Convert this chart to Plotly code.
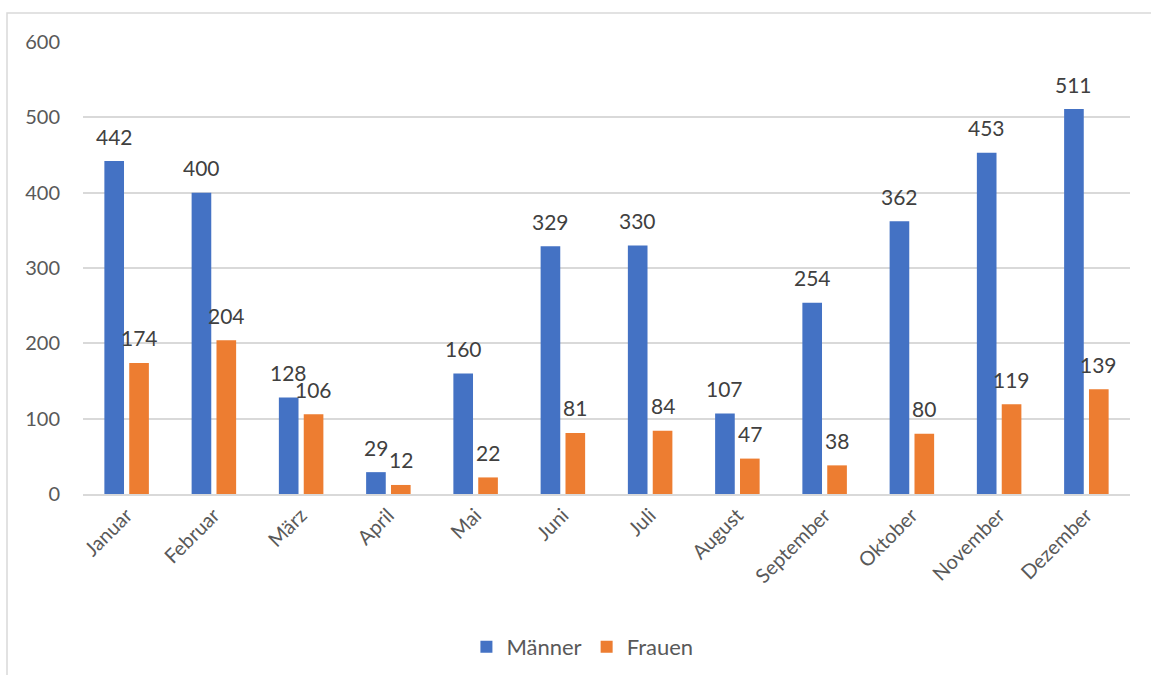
import plotly.graph_objects as go

months = ["Januar", "Februar", "März", "April", "Mai", "Juni", "Juli", "August",
          "September", "Oktober", "November", "Dezember"]
maenner = [442, 400, 128, 29, 160, 329, 330, 107, 254, 362, 453, 511]
frauen = [174, 204, 106, 12, 22, 81, 84, 47, 38, 80, 119, 139]
y_ticks = [0, 100, 200, 300, 400, 500, 600]

FONT = "Lato, 'Open Sans', sans-serif"
LABEL_COLOR = "#404040"

fig = go.Figure()
fig.add_trace(go.Bar(name="Männer", x=months, y=maenner, marker_color="#4472C4"))
fig.add_trace(go.Bar(name="Frauen", x=months, y=frauen, marker_color="#ED7D31"))

# data labels above the bars (Excel-style spacing)
annotations = []
for series, shift in ((maenner, -12.4), (frauen, 12.4)):
    for m, v in zip(months, series):
        annotations.append(dict(x=m, y=v, xref="x", yref="y", text=str(v),
                                showarrow=False, xshift=shift, yshift=25,
                                yanchor="middle", xanchor="center",
                                font=dict(size=21, color=LABEL_COLOR, family=FONT)))

L, R, T, B = 83, 21, 42, 181
W, H = 1151, 675
pw, ph = W - L - R, H - T - B

fig.update_layout(
    template="none",
    width=W, height=H,
    margin=dict(l=L, r=R, t=T, b=B, autoexpand=False),
    paper_bgcolor="white", plot_bgcolor="white",
    font=dict(family=FONT, color="#595959", size=20),
    barmode="group", bargap=0.43, bargroupgap=0.21,
    showlegend=True,
    legend=dict(orientation="h", x=0.477, xanchor="center", y=(494 - 647) / ph,
                yanchor="middle", font=dict(size=22, color="#595959"),
                itemwidth=30, traceorder="normal", bgcolor="rgba(0,0,0,0)"),
    xaxis=dict(tickangle=-45, showgrid=False, showline=True, linecolor="#d9d9d9",
               linewidth=1.5, ticks="", automargin=False,
               tickfont=dict(size=20, color="#595959")),
    yaxis=dict(range=[0, 600], tickvals=y_ticks, showgrid=True, gridcolor="#d9d9d9",
               gridwidth=1.5, zeroline=False, showline=False, ticks="",
               automargin=False, ticklabelstandoff=22,
               tickfont=dict(size=20, color="#595959")),
    annotations=annotations,
    shapes=[dict(type="rect", xref="paper", yref="paper",
                 x0=(7 - L) / pw, x1=(W + 20 - L) / pw,
                 y0=-(H + 20 - (T + ph)) / ph, y1=(T + ph - 13) / ph,
                 line=dict(color="#d9d9d9", width=1.5), layer="below")],
)

fig.write_html("out.html")
